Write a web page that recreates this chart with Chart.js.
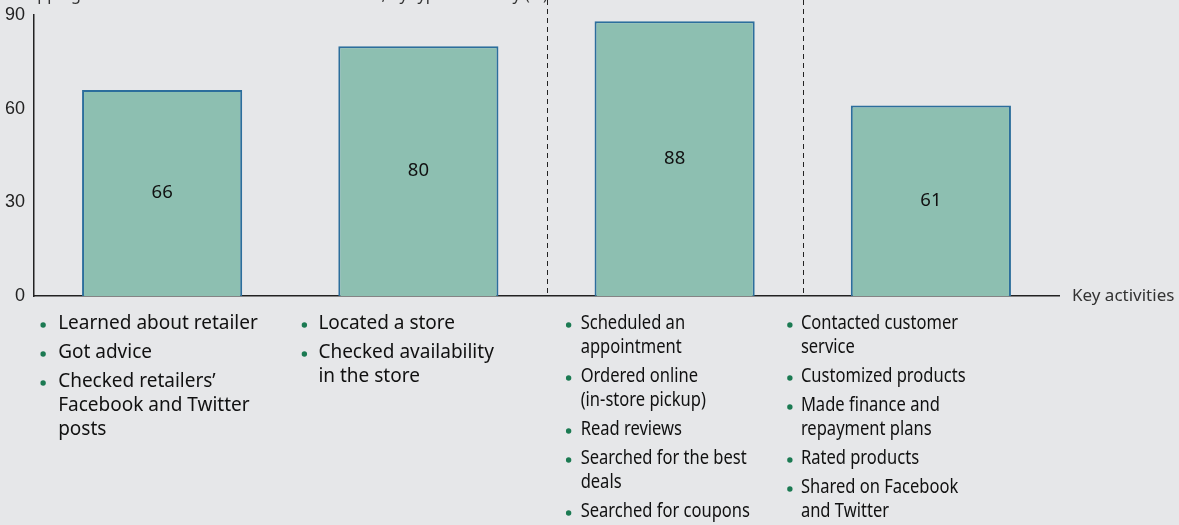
<!DOCTYPE html>
<html>
<head>
<meta charset="utf-8">
<script src="https://cdn.jsdelivr.net/npm/chart.js@4.4.1/dist/chart.umd.min.js"></script>
<style>
  html, body { margin: 0; padding: 0; background: #e6e7e9; }
  #wrap { width: 1179px; height: 525px; position: relative; }
</style>
</head>
<body>
<div id="wrap"><canvas id="chart" width="1179" height="525"></canvas></div>
<script>
// Dados do gráfico
const categories = ['Group 1', 'Group 2', 'Group 3', 'Group 4'];
const shareValues = [66, 80, 88, 61];
const yTicks = [0, 30, 60, 90];
const titleText = 'Shopping activities carried out on a mobile device, by type of activity (%)';
const axisLabel = 'Key activities';

// Atividades de cada grupo (uma linha por entrada)
const activities = [
  [['Learned about retailer'], ['Got advice'], ['Checked retailers\u2019', 'Facebook and Twitter', 'posts']],
  [['Located a store'], ['Checked availability', 'in the store']],
  [['Scheduled an', 'appointment'], ['Ordered online', '(in-store pickup)'], ['Read reviews'],
   ['Searched for the best', 'deals'], ['Searched for coupons']],
  [['Contacted customer', 'service'], ['Customized products'], ['Made finance and', 'repayment plans'],
   ['Rated products'], ['Shared on Facebook', 'and Twitter']]
];

// Posição do marcador, distância até o texto e largura relativa do texto em cada lista
const listOffsets = [-119, -114, -106, -141];
const textGaps = [15, 14, 12, 11];
const textStretch = [1, 1, 0.87, 0.87];

const textFont = '"Noto Sans", "Open Sans", sans-serif';

// Plugin para desenhar rótulos, linhas tracejadas e listas
const decorPlugin = {
  id: 'decor',
  afterDraw(chart) {
    const { ctx, chartArea, scales } = chart;
    const x = scales.x;
    const meta = chart.getDatasetMeta(0);
    ctx.save();

    // título cortado no topo
    ctx.fillStyle = '#333';
    ctx.font = '16px ' + textFont;
    ctx.textAlign = 'left';
    ctx.textBaseline = 'alphabetic';
    ctx.fillText(titleText, 9, 0);

    // linhas tracejadas entre grupos
    ctx.strokeStyle = '#222';
    ctx.lineWidth = 1;
    ctx.setLineDash([5, 4]);
    [1, 2].forEach(i => {
      const px = Math.round((x.getPixelForValue(i) + x.getPixelForValue(i + 1)) / 2) + 0.5;
      ctx.beginPath();
      ctx.moveTo(px, 0);
      ctx.lineTo(px, chartArea.bottom);
      ctx.stroke();
    });
    ctx.setLineDash([]);

    // valores dentro das barras
    ctx.fillStyle = '#111';
    ctx.font = '18.5px ' + textFont;
    ctx.textAlign = 'center';
    ctx.textBaseline = 'middle';
    meta.data.forEach((bar, i) => {
      ctx.fillText(String(shareValues[i]), bar.x, (bar.y + bar.base) / 2);
    });

    // rótulo do eixo x
    ctx.fillStyle = '#333';
    ctx.font = '17px ' + textFont;
    ctx.textAlign = 'left';
    ctx.fillText(axisLabel, chartArea.right + 13, chartArea.bottom);

    // listas de atividades
    ctx.font = '19px ' + textFont;
    ctx.textBaseline = 'middle';
    activities.forEach((items, col) => {
      const bx = x.getPixelForValue(col) + listOffsets[col];
      let ly = chartArea.bottom + 28;
      items.forEach(lines => {
        ctx.fillStyle = '#1b7a52';
        ctx.beginPath();
        ctx.arc(bx, ly + 1, 2.7, 0, Math.PI * 2);
        ctx.fill();
        ctx.fillStyle = '#111';
        lines.forEach((line, k) => {
          ctx.save();
          ctx.translate(bx + textGaps[col], ly);
          ctx.scale(textStretch[col], 1);
          ctx.fillText(line, 0, 0);
          ctx.restore();
          ly += (k < lines.length - 1) ? 24 : 0;
        });
        ly += 29;
      });
    });

    ctx.restore();
  }
};

const chart = new Chart(document.getElementById('chart').getContext('2d'), {
  type: 'bar',
  data: {
    labels: categories,
    datasets: [{
      data: shareValues,
      backgroundColor: '#8dbfb1',
      borderColor: '#2c6e9c',
      borderWidth: 2,
      borderSkipped: 'bottom',
      categoryPercentage: 1,
      barPercentage: 0.625
    }]
  },
  options: {
    responsive: false,
    animation: false,
    layout: { padding: { top: 15, right: 120, left: 0, bottom: 0 } },
    plugins: { legend: { display: false }, tooltip: { enabled: false } },
    scales: {
      x: {
        grid: { display: false },
        border: { display: true, color: '#222', width: 1.5 },
        ticks: { display: false },
        afterFit(axis) { axis.height = 229; }
      },
      y: {
        min: 0,
        max: 90,
        afterBuildTicks(axis) { axis.ticks = yTicks.map(v => ({ value: v })); },
        grid: { display: false },
        border: { display: true, color: '#222', width: 1.5 },
        ticks: {
          color: '#222',
          padding: 1,
          font: { family: '"Liberation Sans", Arial, sans-serif', size: 18 }
        },
        afterFit(axis) { axis.width = 34; }
      }
    }
  },
  plugins: [decorPlugin]
});
</script>
</body>
</html>
